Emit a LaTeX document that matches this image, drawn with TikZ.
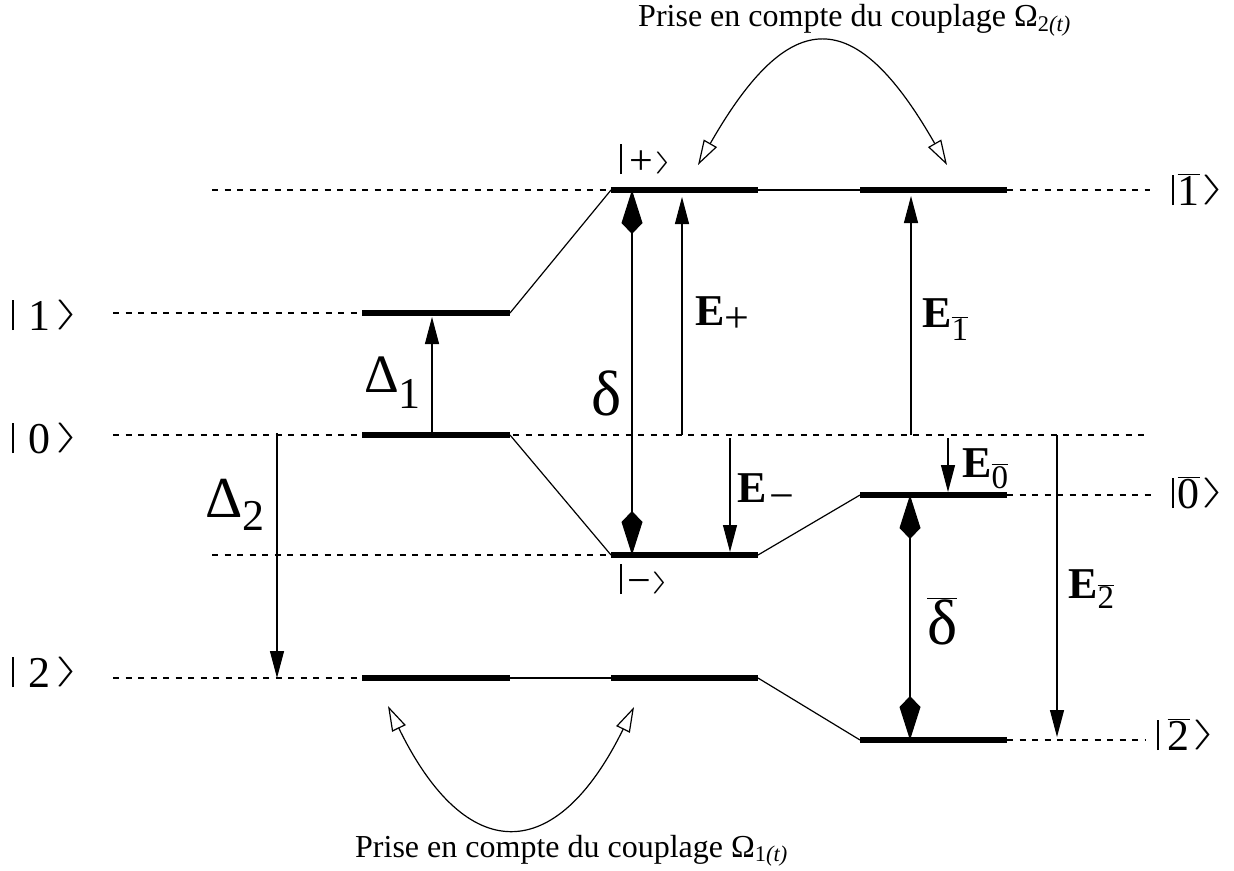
\RequirePackage{fix-cm}
\documentclass[tikz,border=0pt]{standalone}
\usepackage{fontspec}
\setmainfont{Liberation Serif}
\usepackage{graphicx}
\usetikzlibrary{arrows.meta}

\newcommand{\kbar}{\rule{1.4pt}{30pt}}
\newcommand{\kangR}{\raisebox{7.5pt}{\fontsize{30}{30}\selectfont\scalebox{2.1}[1]{$\rangle$}}}
\newcommand{\kangr}{\raisebox{5.5pt}{\fontsize{22}{22}\selectfont\scalebox{2.1}[1]{$\rangle$}}}
\newcommand{\ovl}[1]{\ensuremath{\overline{\mbox{#1}}}}
\newcommand{\Elab}[3]{\textbf{E}\raisebox{-#1}{\fontsize{#2}{#2}\selectfont #3}}

\begin{document}
\begin{tikzpicture}[x=1pt, y=-1pt,
        level/.style={line width=6.5pt},
        link/.style={line width=1.2pt},
        guide/.style={line width=1.1pt, dash pattern=on 6pt off 6.5pt},
        tip/.style={line width=1.2pt, -{Triangle[length=27pt,width=14pt]}},
        twin/.style={line width=1.2pt, {Kite[length=44pt,width=21pt,inset=11pt]}-{Kite[length=44pt,width=21pt,inset=11pt]}},
        swap/.style={line width=1.2pt, {Triangle[open,length=25pt,width=15pt]}-{Triangle[open,length=25pt,width=15pt]}},
        ket/.style={inner sep=0pt, anchor=base west, font=\fontsize{44}{48}\selectfont},
        ketsm/.style={inner sep=0pt, anchor=base west, font=\fontsize{42}{44}\selectfont},
        elab/.style={inner sep=0pt, anchor=base west, font=\fontsize{44}{48}\selectfont},
        greek/.style={inner sep=0pt, anchor=base west, font=\fontsize{64}{68}\selectfont},
        note/.style={inner sep=0pt, anchor=base west, font=\fontsize{32}{36}\selectfont}
        ]
        \useasboundingbox (0,0) rectangle (1234,870);

        % Kets
        \node [ket] (k1) at (12,330) {\kbar\hspace{15pt}1\hspace{5pt}\kangR};
        \node [ket] (k0) at (12,453) {\kbar\hspace{15pt}0\hspace{5pt}\kangR};
        \node [ket] (k2) at (12,687) {\kbar\hspace{15pt}2\hspace{5pt}\kangR};
        \node [ketsm] (kp) at (620,174) {\kbar\hspace{8pt}+\hspace{1pt}\kangr};
        \node [ketsm] (km) at (620,594) {\kbar\hspace{6pt}−\kangr};
        \node [ket] (kb1) at (1172,205) {\kbar\hspace{4pt}\ovl{1}\hspace{2pt}\kangR};
        \node [ket] (kb0) at (1172,508) {\kbar\hspace{4pt}\ovl{0}\hspace{2pt}\kangR};
        \node [ket] (kb2) at (1157,750) {\kbar\hspace{9pt}\ovl{2}\hspace{3pt}\kangR};

        % Levels
        \coordinate (a1w) at (362,313); \coordinate (a1e) at (510,313);
        \coordinate (a0w) at (362,435); \coordinate (a0e) at (510,435);
        \coordinate (a2w) at (362,678); \coordinate (a2e) at (510,678);
        \coordinate (bpw) at (611,190); \coordinate (bpe) at (758,190);
        \coordinate (bmw) at (611,555); \coordinate (bme) at (758,555);
        \coordinate (b2w) at (611,678); \coordinate (b2e) at (758,678);
        \coordinate (c1w) at (860,190); \coordinate (c1e) at (1007,190);
        \coordinate (c0w) at (860,495); \coordinate (c0e) at (1007,495);
        \coordinate (c2w) at (860,740); \coordinate (c2e) at (1007,740);

        % Dashed guides
        \coordinate (g1) at (113,313);
        \coordinate (g0) at (113,435);
        \coordinate (g0r) at (1150,435);
        \coordinate (g2) at (113,678);
        \coordinate (gp) at (212,190);
        \coordinate (gm) at (212,555);
        \coordinate (gc1) at (1150,190);
        \coordinate (gc0) at (1155,495);
        \coordinate (gc2) at (1145,740);
        \draw[guide] (g1) -- (a1w);
        \draw[guide] (g0) -- (g0r);
        \draw[guide] (g2) -- (a2w);
        \draw[guide] (gp) -- (bpw);
        \draw[guide] (gm) -- (bmw);
        \draw[guide] (c1e) -- (gc1);
        \draw[guide] (c0e) -- (gc0);
        \draw[guide] (c2e) -- (gc2);

        % Links
        \draw[link] (a1e) -- (bpw);
        \draw[link] (a0e) -- (bmw);
        \draw[link] (a2e) -- (b2w);
        \draw[link] (bpe) -- (c1w);
        \draw[link] (bme) -- (c0w);
        \draw[link] (b2e) -- (c2w);

        % Bars
        \draw[level] (a1w) -- (a1e);
        \draw[level] (a0w) -- (a0e);
        \draw[level] (a2w) -- (a2e);
        \draw[level] (bpw) -- (bpe);
        \draw[level] (bmw) -- (bme);
        \draw[level] (b2w) -- (b2e);
        \draw[level] (c1w) -- (c1e);
        \draw[level] (c0w) -- (c0e);
        \draw[level] (c2w) -- (c2e);

        % Energy arrows
        \coordinate (d1a) at (432,435); \coordinate (d1b) at (432,317);
        \coordinate (d2a) at (277,433); \coordinate (d2b) at (277,678);
        \coordinate (dla) at (632,190); \coordinate (dlb) at (632,555);
        \coordinate (epa) at (682,435); \coordinate (epb) at (682,197);
        \coordinate (ema) at (730,438); \coordinate (emb) at (730,552);
        \coordinate (e1a) at (911,435); \coordinate (e1b) at (911,196);
        \coordinate (e0a) at (948,438); \coordinate (e0b) at (948,492);
        \coordinate (dba) at (910,495); \coordinate (dbb) at (910,740);
        \coordinate (e2a) at (1057,435); \coordinate (e2b) at (1057,737);
        \draw[tip] (d1a) -- (d1b);
        \draw[tip] (d2a) -- (d2b);
        \draw[twin] (dla) -- (dlb);
        \draw[tip] (epa) -- (epb);
        \draw[tip] (ema) -- (emb);
        \draw[tip] (e1a) -- (e1b);
        \draw[tip] (e0a) -- (e0b);
        \draw[twin] (dba) -- (dbb);
        \draw[tip] (e2a) -- (e2b);

        % Labels
        \node [greek] (lD1) at (364,392) {{\fontsize{54}{58}\selectfont Δ}\raisebox{-16pt}{\fontsize{44}{48}\selectfont 1}};
        \node [greek] (lD2) at (205,517) {{\fontsize{58}{62}\selectfont Δ}\raisebox{-13pt}{\fontsize{44}{48}\selectfont 2}};
        \node [greek] (ld) at (591,415) {δ};
        \node [greek] (ldb) at (927,644) {\ovl{δ}};
        \node [elab] (lEp) at (695,325) {\Elab{7pt}{44}{+}};
        \node [elab] (lEm) at (737,502) {\Elab{8pt}{44}{\hspace{3pt}−}};
        \node [elab] (lE1) at (922,327) {\Elab{13pt}{33}{\ovl{1}}};
        \node [elab] (lE0) at (962,477) {\Elab{11pt}{33}{\ovl{0}}};
        \node [elab] (lE2) at (1068,598) {\Elab{10pt}{33}{\ovl{2}}};

        % Couplings
        \coordinate (sa) at (698,165); \coordinate (sb) at (947,165);
        \coordinate (ta) at (388,706); \coordinate (tb) at (634,707);
        \draw[swap] (sa) .. controls (790,4) and (855,4) .. (sb);
        \draw[swap] (ta) .. controls (466,866) and (556,866) .. (tb);
        \node [note] (top) at (638,27) {Prise en compte du couplage Ω\textsubscript{2\textit{(t)}}};
        \node [note] (bot) at (355,857) {Prise en compte du couplage Ω\textsubscript{1\textit{(t)}}};

    \end{tikzpicture}
\end{document}
